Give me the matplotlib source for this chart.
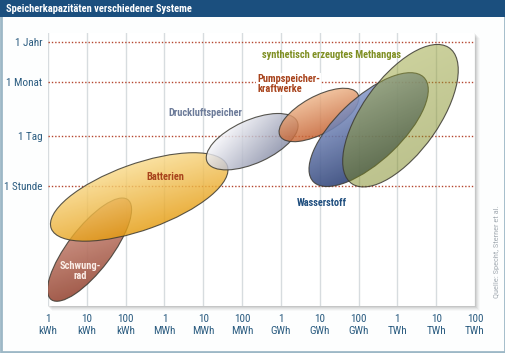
import numpy as np
import matplotlib
matplotlib.use("Agg")
import matplotlib.pyplot as plt
from matplotlib.patches import Ellipse, Rectangle
from matplotlib.colors import LinearSegmentedColormap

plt.rcParams['font.family'] = ['Roboto Condensed', 'Open Sans Condensed', 'Roboto', 'DejaVu Sans']

# ---------------- data ----------------
title = "Speicherkapazitäten verschiedener Systeme"
source = "Quelle: Specht, Sterner et al."

# x axis: log10 of capacity in kWh
x_tick_vals = list(range(12))
x_tick_labels = ["1\nkWh", "10\nkWh", "100\nkWh", "1\nMWh", "10\nMWh", "100\nMWh",
                 "1\nGWh", "10\nGWh", "100\nGWh", "1\nTWh", "10\nTWh", "100\nTWh"]
# y axis: log10 of storage duration in hours
y_tick_hours = [1, 24, 720, 8760]
y_tick_labels = ["1 Stunde", "1 Tag", "1 Monat", "1 Jahr"]

systems = ["Schwungrad", "Batterien", "Druckluftspeicher",
           "Pumpspeicherkraftwerke", "Wasserstoff", "Methangas"]
center_x = [1.07, 2.35, 5.26, 6.98, 8.26, 9.08]
center_y = [-1.73, -0.29, 1.22, 1.95, 1.55, 1.93]
widths = [3.37, 4.85, 2.57, 2.31, 4.03, 4.48]
heights = [1.14, 1.80, 1.17, 1.01, 1.70, 1.99]
angles = [54.5, 21.0, 26.0, 30.5, 45.5, 56.5]

light_cols = ["#d49888", "#f9da8a", "#f6f6fa", "#eeb68a", "#8a9ccc", "#98a238"]
dark_cols = ["#9a4e3c", "#e59c10", "#868ca6", "#c5602f", "#2f4378", "#7a861c"]
alphas = [0.92, 0.82, 0.82, 0.82, 0.88, 0.50]
grad_dirs = [(0.35, -0.94), (0.30, -0.95), (0.75, -0.66), (0.35, -0.94),
             (0.45, -0.89), (0.45, -0.89)]

label_texts = ["Schwung-\nrad", "Batterien", "Druckluftspeicher",
               "Pumpspeicher-\nkraftwerke", "Wasserstoff", "synthetisch erzeugtes Methangas"]
label_x = [0.82, 3.02, 4.05, 5.39, 7.06, 5.52]
label_y = [-2.30, 0.25, 2.00, 2.80, -0.46, 3.59]
label_ha = ["center", "center", "center", "left", "center", "left"]
label_cols = ["#fbeee8", "#a8431c", "#6c7b99", "#a8431c", "#1f4e7e", "#7f8f22"]

# ---------------- figure ----------------
W, H = 506, 353
fig = plt.figure(figsize=(W / 100, H / 100), dpi=100)
fig.patch.set_facecolor("#fdfefe")


def fx(px):
    return px / W


def fy(py):
    return 1 - py / H


# outer frame
fig.add_artist(Rectangle((0.002, 0.003), 0.996, 0.994, transform=fig.transFigure,
                         facecolor="none", edgecolor="#9db8c6", lw=2.0, zorder=-5))
# title bar
fig.add_artist(Rectangle((0, fy(17)), 1, 17 / H, transform=fig.transFigure,
                         facecolor="#1b4f7e", edgecolor="none", zorder=-4))
fig.text(fx(6), fy(9), title, color="white", fontsize=7.6, fontweight="bold",
         ha="left", va="center")

# panel shadow
L, R, T, B = 48, 475, 33, 306
for off, a in [(5, 0.025), (4, 0.035), (3, 0.045), (2, 0.06), (1, 0.07)]:
    fig.add_artist(Rectangle((fx(L + off - 1), fy(B + off)), fx(R - L + 1), (B - T) / H,
                             transform=fig.transFigure, facecolor="#000000",
                             edgecolor="none", alpha=a, zorder=-3))

ax = fig.add_axes([fx(L), fy(B), fx(R) - fx(L), fy(T) - fy(B)])
ax.set_facecolor("white")
for s in ax.spines.values():
    s.set_visible(False)

# vertical grid
for xv in x_tick_vals:
    ax.axvline(xv, color="#d7dcdf", lw=1.0, zorder=1)
# horizontal dotted reference lines
for hv in y_tick_hours:
    ax.axhline(np.log10(hv), color="#b5452e", lw=1.0, ls=(0, (1, 1.4)), zorder=2)

# ellipses with gradient fill
for i in range(len(systems)):
    cx, cy, w, h, ang = center_x[i], center_y[i], widths[i], heights[i], angles[i]
    z = 3 + 2 * i
    e = Ellipse((cx, cy), w, h, angle=ang, facecolor="none",
                edgecolor="#3c3a32", lw=0.8, alpha=0.85, zorder=z + 1)
    ax.add_patch(e)
    r = w / 2
    ext = [cx - r, cx + r, cy - r, cy + r]
    X, Y = np.meshgrid(np.linspace(ext[0], ext[1], 240), np.linspace(ext[2], ext[3], 240))
    gx, gy = grad_dirs[i]
    th = np.deg2rad(ang)
    a_, b_ = w / 2, h / 2
    Rsup = np.sqrt((a_ * (gx * np.cos(th) + gy * np.sin(th))) ** 2 +
                   (b_ * (-gx * np.sin(th) + gy * np.cos(th))) ** 2)
    t = ((X - cx) * gx + (Y - cy) * gy) / Rsup
    t = np.clip((t + 1) / 2, 0, 1)
    cmap = LinearSegmentedColormap.from_list("g%d" % i, [light_cols[i], dark_cols[i]])
    im = ax.imshow(t, extent=ext, origin="lower", cmap=cmap, vmin=0, vmax=1,
                   alpha=alphas[i], aspect="auto", zorder=z, interpolation="bilinear")
    im.set_clip_path(e)

# labels
for i in range(len(systems)):
    kw = {"zorder": 20}
    if i == 3:
        kw["bbox"] = dict(facecolor="white", edgecolor="none", pad=1.0)
        kw["zorder"] = 2.5
    ax.text(label_x[i], label_y[i], label_texts[i], color=label_cols[i],
            fontsize=7.5, fontweight="bold", ha=label_ha[i], va="center",
            linespacing=1.0, **kw)

ax.set_xlim(0, 11)
ax.set_ylim(-3.27, 4.19)
ax.set_xticks(x_tick_vals)
ax.set_xticklabels(x_tick_labels, linespacing=1.25)
ax.set_yticks(np.log10(y_tick_hours))
ax.set_yticklabels(y_tick_labels)
ax.tick_params(axis="both", length=0, labelsize=8, colors="#2b5c80")
ax.tick_params(axis="x", pad=6)
ax.tick_params(axis="y", pad=4)

fig.text(fx(497), fy(252), source, rotation=90, color="#a4acb3", fontsize=6,
         ha="center", va="center")

fig.savefig("out.png", dpi=100)
